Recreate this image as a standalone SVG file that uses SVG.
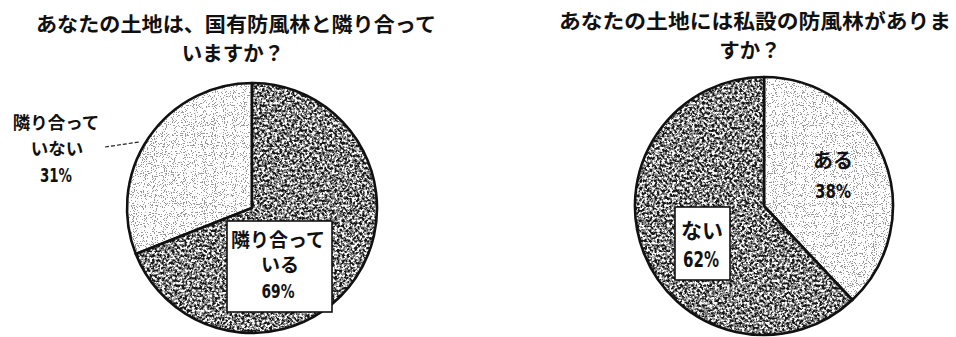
<svg xmlns="http://www.w3.org/2000/svg" width="956" height="337" viewBox="0 0 956 337">
<style>
.title{font-family:"Noto Sans CJK JP","Noto Sans CJK SC",sans-serif;font-weight:bold;font-size:20.5px;fill:#111;text-anchor:middle}
.lab{font-family:"Noto Sans CJK JP","Noto Sans CJK SC",sans-serif;font-weight:bold;fill:#111;text-anchor:middle}
.pct{font-family:"DejaVu Sans Condensed","DejaVu Sans",sans-serif;font-weight:bold;fill:#111;text-anchor:middle}
.edge{fill:none;stroke:#111;stroke-width:2.6;stroke-linejoin:round}
.box{fill:#fff;stroke:#111;stroke-width:1.6}
.lead{fill:none;stroke:#222;stroke-width:1.2;stroke-dasharray:4 2}
</style>
<defs>
<filter id="dark" x="0" y="0" width="1" height="1" color-interpolation-filters="sRGB">
<feTurbulence type="fractalNoise" baseFrequency="0.4" numOctaves="3" seed="7" result="t"/>
<feColorMatrix in="t" type="matrix" values="3 0 0 0 -1 3 0 0 0 -1 3 0 0 0 -1 0 0 0 0 1"/>
<feComponentTransfer>
<feFuncR type="discrete" tableValues="0.1 0.32 0.52 0.72 0.97"/>
<feFuncG type="discrete" tableValues="0.1 0.32 0.52 0.72 0.97"/>
<feFuncB type="discrete" tableValues="0.1 0.32 0.52 0.72 0.97"/>
</feComponentTransfer>
<feComposite in2="SourceGraphic" operator="in"/>
</filter>
<filter id="light" x="0" y="0" width="1" height="1" color-interpolation-filters="sRGB">
<feTurbulence type="fractalNoise" baseFrequency="0.9" numOctaves="1" seed="2" result="t"/>
<feColorMatrix in="t" type="matrix" values="4 0 0 0 -1.5 4 0 0 0 -1.5 4 0 0 0 -1.5 0 0 0 0 1"/>
<feComponentTransfer>
<feFuncR type="discrete" tableValues="0.6 0.9 1 1 1 1 1 1 1 1 1 1"/>
<feFuncG type="discrete" tableValues="0.6 0.9 1 1 1 1 1 1 1 1 1 1"/>
<feFuncB type="discrete" tableValues="0.6 0.9 1 1 1 1 1 1 1 1 1 1"/>
</feComponentTransfer>
<feComposite in2="SourceGraphic" operator="in"/>
</filter>
</defs>
<rect width="956" height="337" fill="#fff"/>

<g id="title-left">
<text class="title" x="236" y="32" textLength="400" lengthAdjust="spacingAndGlyphs">あなたの土地は、国有防風林と隣り合って</text>
<text class="title" x="233" y="61">いますか？</text>
</g>
<g id="title-right">
<text class="title" x="755" y="29" textLength="392" lengthAdjust="spacingAndGlyphs">あなたの土地には私設の防風林がありま</text>
<text class="title" x="750" y="58">すか？</text>
</g>

<g id="slice-not-adjacent">
<path d="M252,208 L252,83 A125,125 0 0 0 135.8,254 Z" fill="#fff" filter="url(#light)"/>
<path class="edge" d="M252,208 L252,83 A125,125 0 0 0 135.8,254 Z"/>
<text class="lab" x="56" y="129" font-size="17.5">隣り合って</text>
<text class="lab" x="57" y="155" font-size="17.5">いない</text>
<text class="pct" x="56" y="182" font-size="19" textLength="32" lengthAdjust="spacingAndGlyphs">31%</text>
</g>
<g id="slice-adjacent">
<path d="M252,208 L252,83 A125,125 0 1 1 135.8,254 Z" fill="#fff" filter="url(#dark)"/>
<path class="edge" d="M252,208 L252,83 A125,125 0 1 1 135.8,254 Z"/>
<rect class="box" x="227" y="221" width="105" height="91"/>
<text class="lab" x="278" y="247" font-size="19">隣り合って</text>
<text class="lab" x="280" y="272" font-size="19">いる</text>
<text class="pct" x="278" y="298" font-size="19" textLength="33" lengthAdjust="spacingAndGlyphs">69%</text>
</g>

<g id="slice-yes">
<path d="M764,206 L764,77 A129,129 0 0 1 852.3,300 Z" fill="#fff" filter="url(#light)"/>
<path class="edge" d="M764,206 L764,77 A129,129 0 0 1 852.3,300 Z"/>
<text class="lab" x="833" y="168" font-size="20">ある</text>
<text class="pct" x="833" y="198" font-size="20" textLength="36" lengthAdjust="spacingAndGlyphs">38%</text>
</g>
<g id="slice-no">
<path d="M764,206 L764,77 A129,129 0 1 0 852.3,300 Z" fill="#fff" filter="url(#dark)"/>
<path class="edge" d="M764,206 L764,77 A129,129 0 1 0 852.3,300 Z"/>
<rect class="box" x="675" y="207" width="55" height="73"/>
<text class="lab" x="702" y="238" font-size="21">ない</text>
<text class="pct" x="701" y="267" font-size="21" textLength="36" lengthAdjust="spacingAndGlyphs">62%</text>
</g>

<g id="connectors">
<path class="lead" d="M105,147 L139,142"/>
</g>
</svg>
